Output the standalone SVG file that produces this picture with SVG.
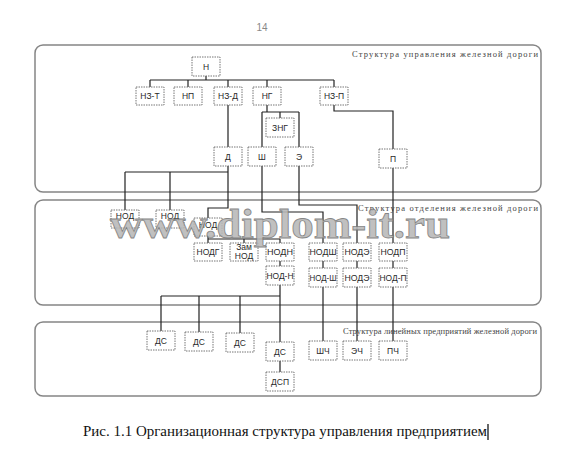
<svg xmlns="http://www.w3.org/2000/svg" width="572" height="460" viewBox="0 0 572 460">
<style>
.frame{fill:none;stroke:#858585;stroke-width:1.5}
.nb{fill:#fff;stroke:#666;stroke-width:0.9;stroke-dasharray:1.5,1}
.nt{font-family:"Liberation Sans",Arial,sans-serif;font-size:8.5px;fill:#2a2a2a;text-anchor:middle}
.ttl{font-family:"Liberation Serif","Times New Roman",serif;font-size:8.5px;fill:#444}
.cn{fill:none;stroke:#222;stroke-width:1.2}
</style>
<rect width="572" height="460" fill="#fff"/>
<text x="262" y="31" font-family="Liberation Sans,Arial,sans-serif" font-size="10" fill="#888" text-anchor="middle">14</text>
<g id="frames">
<rect class="frame" x="35" y="45" width="506" height="147" rx="8"/>
<rect class="frame" x="35" y="200" width="506" height="105" rx="8"/>
<rect class="frame" x="35" y="322" width="506" height="74" rx="8"/>
<text class="ttl" x="352" y="57" textLength="186" lengthAdjust="spacing">Структура управления железной дороги</text>
<text class="ttl" x="358" y="211" textLength="180" lengthAdjust="spacing">Структура отделения железной дороги</text>
<text class="ttl" x="343" y="334" textLength="194" lengthAdjust="spacing">Структура линейных предприятий железной дороги</text>
</g>
<g id="connectors">
<path class="cn" d="M206 76V80M150 80H334M150 80V87M188 80V87M228 80V87M267 80V87M334 80V87"/>
<path class="cn" d="M228 105V147M267 105V112M262 112H299M280 112V118M262 112V147M299 112V147M334 105V111H393V149"/>
<path class="cn" d="M228 166V172M125 172H228M125 172V210M170 172V210M228 172V208H208V218"/>
<path class="cn" d="M262 166V212H323V243M299 166V205H357V243M393 168V243"/>
<path class="cn" d="M208 236V239M208 239H280M208 239V243M244 239V243M280 239V243M280 261V266"/>
<path class="cn" d="M280 285V296M161 296H280M161 296V331M199 296V332M240 296V333M280 296V342M280 361V372"/>
<path class="cn" d="M323 261V268M323 287V341M357 261V268M357 287V341M393 261V268M393 287V341"/>
</g>
<g id="n-N"><rect class="nb" x="192" y="57" width="28" height="19"/><text class="nt" x="206" y="70">Н</text></g>
<g id="n-NZT"><rect class="nb" x="136" y="87" width="28" height="18"/><text class="nt" x="150" y="99">НЗ-Т</text></g>
<g id="n-NP"><rect class="nb" x="174" y="87" width="28" height="18"/><text class="nt" x="188" y="99">НП</text></g>
<g id="n-NZD"><rect class="nb" x="214" y="87" width="28" height="18"/><text class="nt" x="228" y="99">НЗ-Д</text></g>
<g id="n-NG"><rect class="nb" x="253" y="87" width="28" height="18"/><text class="nt" x="267" y="99">НГ</text></g>
<g id="n-NZP"><rect class="nb" x="320" y="87" width="28" height="18"/><text class="nt" x="334" y="99">НЗ-П</text></g>
<g id="n-ZNG"><rect class="nb" x="266" y="118" width="28" height="19"/><text class="nt" x="280" y="131">ЗНГ</text></g>
<g id="n-D"><rect class="nb" x="214" y="147" width="28" height="19"/><text class="nt" x="228" y="160">Д</text></g>
<g id="n-Sh"><rect class="nb" x="248" y="147" width="28" height="19"/><text class="nt" x="262" y="160">Ш</text></g>
<g id="n-E"><rect class="nb" x="285" y="147" width="28" height="19"/><text class="nt" x="299" y="160">Э</text></g>
<g id="n-P"><rect class="nb" x="379" y="149" width="28" height="19"/><text class="nt" x="393" y="162">П</text></g>
<g id="n-NOD1"><rect class="nb" x="111" y="210" width="28" height="18"/><text class="nt" x="125" y="219">НОД</text></g>
<g id="n-NOD2"><rect class="nb" x="156" y="210" width="28" height="18"/><text class="nt" x="170" y="219">НОД</text></g>
<g id="n-NOD3"><rect class="nb" x="194" y="218" width="28" height="18"/><text class="nt" x="208" y="228">НОД</text></g>
<g id="n-NODG"><rect class="nb" x="194" y="243" width="28" height="18"/><text class="nt" x="208" y="255">НОДГ</text></g>
<g id="n-ZamNOD"><rect class="nb" x="230" y="243" width="28" height="18"/><text class="nt" x="244" y="250" font-size="7">Зам</text><text class="nt" x="244" y="259">НОД</text></g>
<g id="n-NODN"><rect class="nb" x="266" y="243" width="28" height="18"/><text class="nt" x="280" y="255" textLength="26" lengthAdjust="spacingAndGlyphs">НОДН</text></g>
<g id="n-NOD-N"><rect class="nb" x="266" y="266" width="28" height="19"/><text class="nt" x="280" y="279" textLength="27" lengthAdjust="spacingAndGlyphs">НОД-Н</text></g>
<g id="n-NODSh"><rect class="nb" x="309" y="243" width="28" height="18"/><text class="nt" x="323" y="255" textLength="27" lengthAdjust="spacingAndGlyphs">НОДШ</text></g>
<g id="n-NODE"><rect class="nb" x="343" y="243" width="28" height="18"/><text class="nt" x="357" y="255" textLength="25" lengthAdjust="spacingAndGlyphs">НОДЭ</text></g>
<g id="n-NODP"><rect class="nb" x="379" y="243" width="28" height="18"/><text class="nt" x="393" y="255" textLength="25" lengthAdjust="spacingAndGlyphs">НОДП</text></g>
<g id="n-NOD-Sh"><rect class="nb" x="309" y="268" width="28" height="19"/><text class="nt" x="323" y="281" textLength="27" lengthAdjust="spacingAndGlyphs">НОД-Ш</text></g>
<g id="n-NODE2"><rect class="nb" x="343" y="268" width="28" height="19"/><text class="nt" x="357" y="281" textLength="25" lengthAdjust="spacingAndGlyphs">НОДЭ</text></g>
<g id="n-NOD-P"><rect class="nb" x="379" y="268" width="28" height="19"/><text class="nt" x="393" y="281" textLength="27" lengthAdjust="spacingAndGlyphs">НОД-П</text></g>
<g id="n-DS1"><rect class="nb" x="147" y="331" width="28" height="19"/><text class="nt" x="161" y="344">ДС</text></g>
<g id="n-DS2"><rect class="nb" x="185" y="332" width="28" height="19"/><text class="nt" x="199" y="345">ДС</text></g>
<g id="n-DS3"><rect class="nb" x="226" y="333" width="28" height="19"/><text class="nt" x="240" y="346">ДС</text></g>
<g id="n-DS4"><rect class="nb" x="266" y="342" width="28" height="19"/><text class="nt" x="280" y="355">ДС</text></g>
<g id="n-DSP"><rect class="nb" x="266" y="372" width="28" height="19"/><text class="nt" x="280" y="385">ДСП</text></g>
<g id="n-ShCh"><rect class="nb" x="309" y="341" width="28" height="19"/><text class="nt" x="323" y="354">ШЧ</text></g>
<g id="n-ECh"><rect class="nb" x="343" y="341" width="28" height="19"/><text class="nt" x="357" y="354">ЭЧ</text></g>
<g id="n-PCh"><rect class="nb" x="379" y="341" width="28" height="19"/><text class="nt" x="393" y="354">ПЧ</text></g>
<text x="110" y="238" font-family="Liberation Serif,Times New Roman,serif" font-weight="bold" font-size="43" fill="#b8b8b8" stroke="#767676" stroke-width="0.8" opacity="0.88" textLength="340" lengthAdjust="spacingAndGlyphs">www.diplom-it.ru</text>
<text x="83" y="436" font-family="Liberation Serif,Times New Roman,serif" font-size="14" fill="#111" textLength="404" lengthAdjust="spacingAndGlyphs">Рис. 1.1 Организационная структура управления предприятием</text>
<line x1="488" y1="424" x2="488" y2="440" stroke="#000" stroke-width="1.2"/>
</svg>
